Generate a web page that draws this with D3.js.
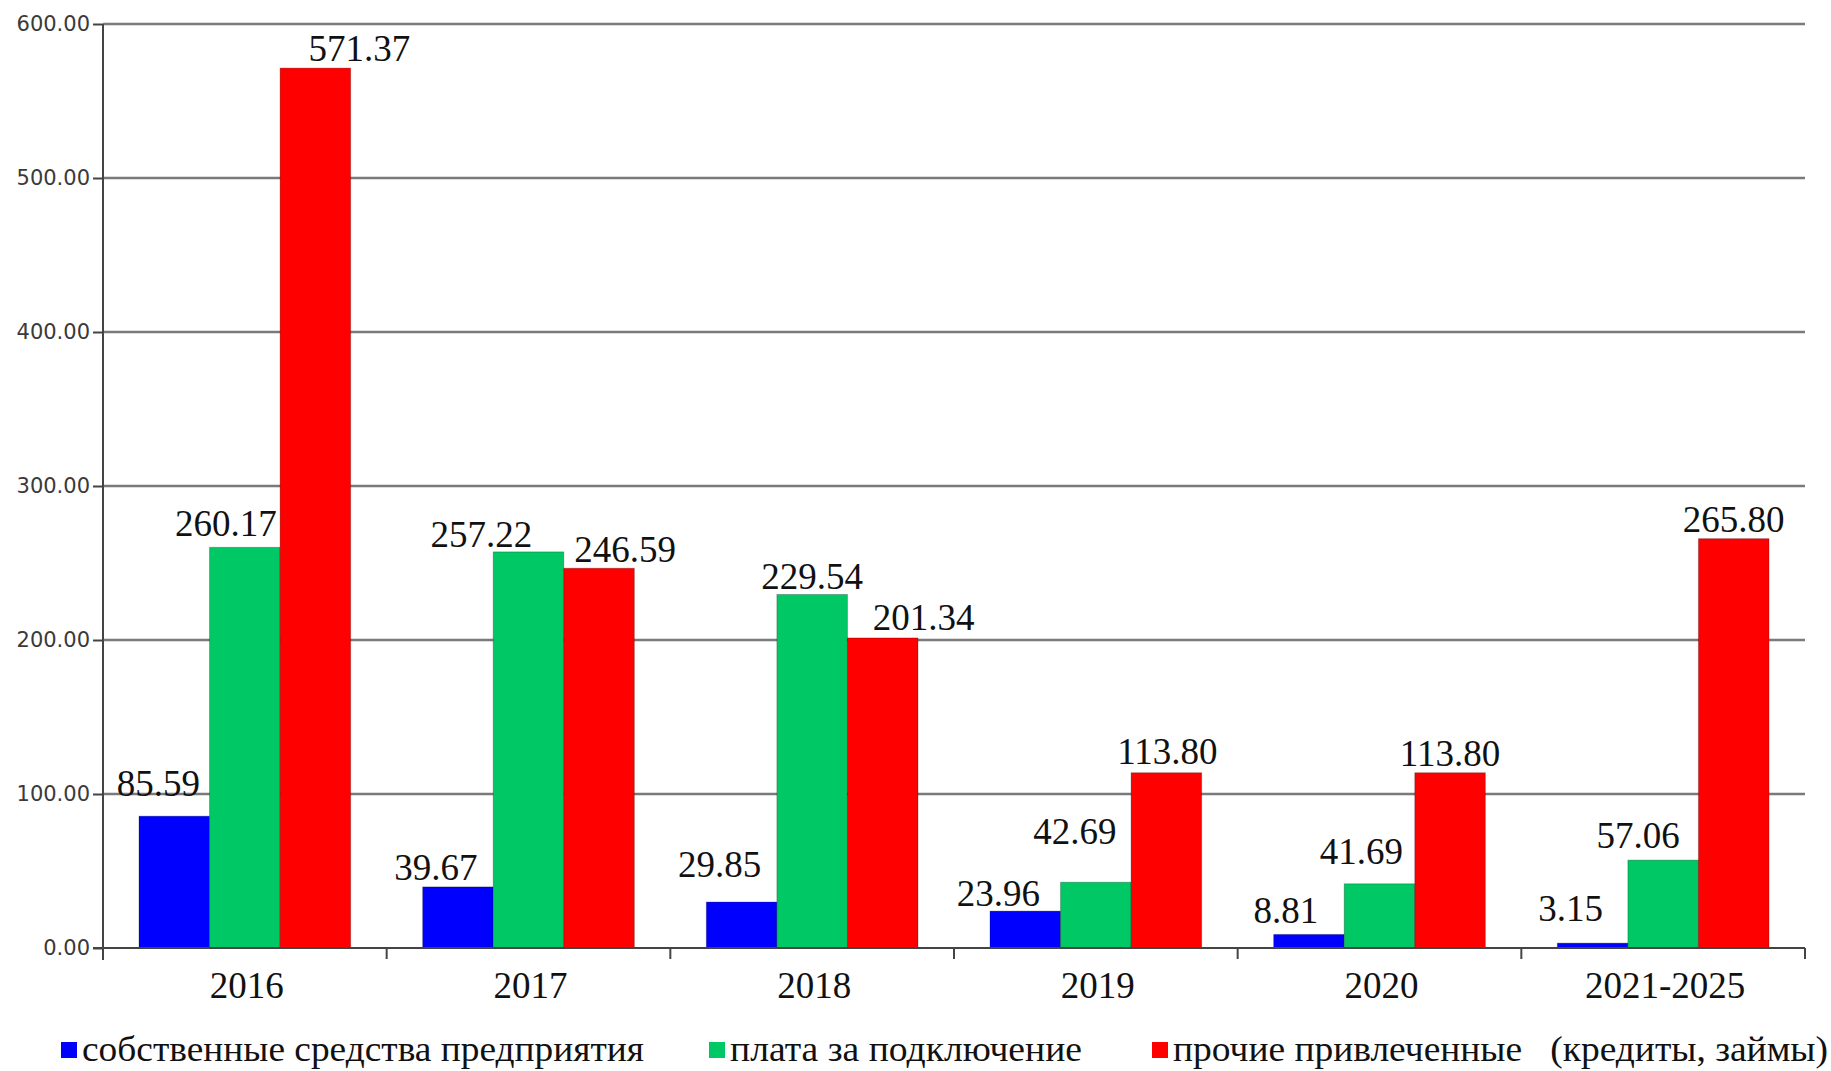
<!DOCTYPE html>
<html lang="ru">
  <head>
    <meta charset="UTF-8" />
    <title>Источники финансирования</title>
    <script src="https://d3js.org/d3.v7.min.js"></script>
    <style>
      body { margin: 0; background: #fff; }
      svg text { white-space: pre; }
    </style>
  </head>

  <body>
    <svg id="chart" width="1831" height="1071"></svg>
    <script>
      // categories, series and values
      const years = ["2016", "2017", "2018", "2019", "2020", "2021-2025"];
      const seriesNames = [
        "собственные средства предприятия",
        "плата за подключение",
        "прочие привлеченные   (кредиты, займы)",
      ];
      const ownFunds = [85.59, 39.67, 29.85, 23.96, 8.81, 3.15];
      const connectionFee = [260.17, 257.22, 229.54, 42.69, 41.69, 57.06];
      const otherFunds = [571.37, 246.59, 201.34, 113.8, 113.8, 265.8];
      const yTicks = [0, 100, 200, 300, 400, 500, 600];

      const colors = ["#0000ff", "#00c864", "#ff0000"];
      // small hand nudges for the value labels [dx, dy], like in the source
      const labelNudge = [
        [[-16, 20], [-19, 11], [44, 7]],
        [[-22, 7], [-47, 5], [26, 6]],
        [[-22, 25], [0, 6], [41, 8]],
        [[-27, 5], [-21, 38], [1, 9]],
        [[-23, 11], [-18, 20], [0, 7]],
        [[-22, 22], [-25, 12], [0, 7]],
      ];
      const serif = "'Liberation Serif', 'DejaVu Serif', 'Times New Roman', serif";

      const seriesValues = [ownFunds, connectionFee, otherFunds];
      const data = years.map((y, i) => ({
        year: y,
        values: seriesValues.map((s, j) => ({ key: j, value: s[i] })),
      }));

      const svg = d3.select("#chart");
      const width = +svg.attr("width");
      const height = +svg.attr("height");
      const margin = { top: 24, right: 26, bottom: 123, left: 103 };
      const plotW = width - margin.left - margin.right;
      const plotH = height - margin.top - margin.bottom;

      const g = svg
        .append("g")
        .attr("transform", "translate(" + margin.left + "," + margin.top + ")");

      const x = d3.scaleBand().domain(years).range([0, plotW]);
      const xInner = d3
        .scaleBand()
        .domain([0, 1, 2])
        .range([36, x.bandwidth() - 36]);
      const y = d3.scaleLinear().domain([0, 600]).range([plotH, 0]);

      // gridlines
      g.selectAll("line.grid")
        .data(yTicks.slice(1))
        .join("line")
        .attr("class", "grid")
        .attr("x1", 0)
        .attr("x2", plotW)
        .attr("y1", (d) => y(d))
        .attr("y2", (d) => y(d))
        .attr("stroke", "#7a7a7a")
        .attr("stroke-width", 2.5);

      // y axis
      const yAxis = g
        .append("g")
        .call(
          d3.axisLeft(y).tickValues(yTicks).tickFormat(d3.format(".2f")).tickSize(10).tickPadding(3)
        );
      yAxis.select(".domain").remove();
      yAxis.selectAll(".tick line").attr("stroke", "#444").attr("stroke-width", 2);
      yAxis
        .selectAll(".tick text")
        .attr("font-family", "'DejaVu Sans', sans-serif")
        .attr("font-size", 21)
        .attr("fill", "#3a3a3a");
      g.append("line")
        .attr("x1", 0)
        .attr("x2", 0)
        .attr("y1", 0)
        .attr("y2", plotH + 12)
        .attr("stroke", "#444")
        .attr("stroke-width", 2);

      // bars
      const groups = g
        .selectAll("g.year")
        .data(data)
        .join("g")
        .attr("class", "year")
        .attr("transform", (d) => "translate(" + x(d.year) + ",0)");

      groups
        .selectAll("rect")
        .data((d) => d.values)
        .join("rect")
        .attr("x", (d) => xInner(d.key))
        .attr("width", xInner.bandwidth())
        .attr("y", (d) => y(d.value))
        .attr("height", (d) => plotH - y(d.value))
        .attr("fill", (d) => colors[d.key])
        .attr("stroke", "rgba(0,0,0,0.25)")
        .attr("stroke-width", 1);

      groups
        .selectAll("text.val")
        .data((d, i) => d.values.map((v) => ({ ...v, yi: i })))
        .join("text")
        .attr("class", "val")
        .attr("x", (d) => xInner(d.key) + xInner.bandwidth() / 2 + labelNudge[d.yi][d.key][0])
        .attr("y", (d) => y(d.value) - labelNudge[d.yi][d.key][1])
        .attr("text-anchor", "middle")
        .attr("font-family", serif)
        .attr("font-size", 37)
        .attr("fill", "#111")
        .text((d) => d.value.toFixed(2));

      // x axis
      g.append("line")
        .attr("x1", -10)
        .attr("x2", plotW)
        .attr("y1", plotH)
        .attr("y2", plotH)
        .attr("stroke", "#444")
        .attr("stroke-width", 2);
      g.selectAll("line.xtick")
        .data(years.slice(1).concat(["end"]))
        .join("line")
        .attr("class", "xtick")
        .attr("x1", (d, i) => (i < years.length - 1 ? x(d) : plotW))
        .attr("x2", (d, i) => (i < years.length - 1 ? x(d) : plotW))
        .attr("y1", plotH)
        .attr("y2", plotH + 11)
        .attr("stroke", "#444")
        .attr("stroke-width", 2);
      g.selectAll("text.xlabel")
        .data(years)
        .join("text")
        .attr("class", "xlabel")
        .attr("x", (d) => x(d) + x.bandwidth() / 2 + 2)
        .attr("y", plotH + 50)
        .attr("text-anchor", "middle")
        .attr("font-family", serif)
        .attr("font-size", 37)
        .attr("fill", "#111")
        .text((d) => d);

      // legend
      const legendX = [61, 709, 1152];
      const legendLen = [562, 352, 655];
      const legend = svg
        .selectAll("g.legend")
        .data(seriesNames)
        .join("g")
        .attr("class", "legend")
        .attr("transform", (d, i) => "translate(" + legendX[i] + ",1051)");
      legend
        .append("rect")
        .attr("x", 0)
        .attr("y", -9)
        .attr("width", 16)
        .attr("height", 16)
        .attr("fill", (d, i) => colors[i]);
      legend
        .append("text")
        .attr("x", 21)
        .attr("y", 10)
        .attr("font-family", serif)
        .attr("font-size", 36)
        .attr("fill", "#111")
        .attr("textLength", (d, i) => legendLen[i])
        .attr("lengthAdjust", "spacingAndGlyphs")
        .text((d) => d);
    </script>
  </body>
</html>
